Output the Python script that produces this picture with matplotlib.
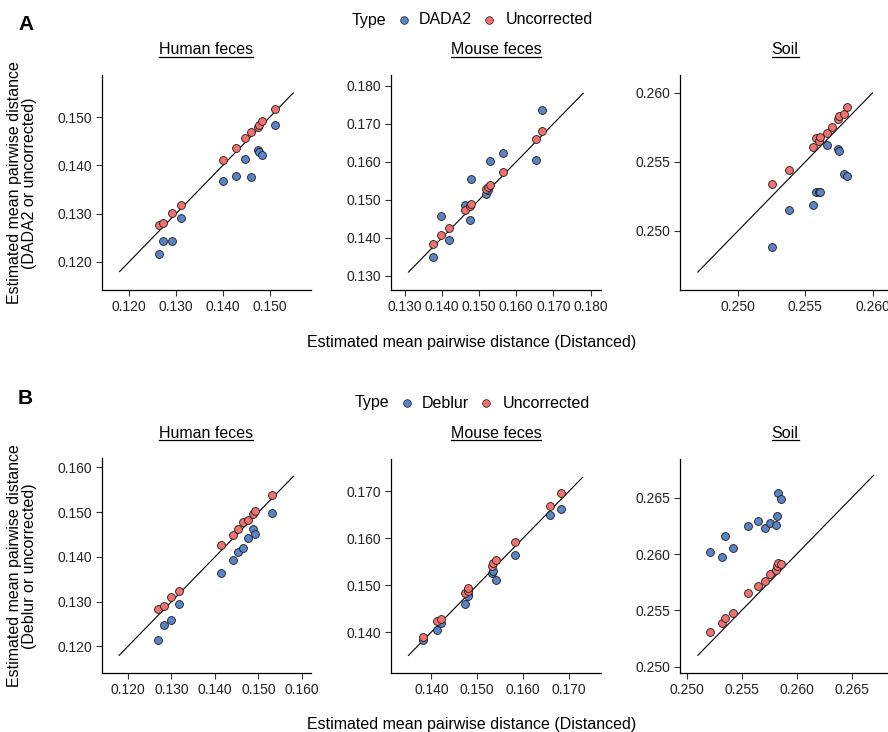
import numpy as np
import matplotlib
matplotlib.use("Agg")
import matplotlib.pyplot as plt
from matplotlib.lines import Line2D
from matplotlib.ticker import MultipleLocator, FormatStrFormatter

plt.rcParams['font.family'] = ['Liberation Sans', 'DejaVu Sans']

# values
# x = Distanced estimate, y = corrected (DADA2 / Deblur) or uncorrected estimate
a_human_x = [0.1264, 0.1272, 0.1291, 0.1311, 0.1400, 0.1427, 0.1447, 0.1460, 0.1474, 0.1476, 0.1483, 0.1512]
a_human_unc = [0.1277, 0.1281, 0.1301, 0.1318, 0.1412, 0.1435, 0.1456, 0.1470, 0.1480, 0.1484, 0.1491, 0.1517]
a_human_dada2 = [0.1217, 0.1243, 0.1243, 0.1290, 0.1367, 0.1377, 0.1414, 0.1375, 0.1432, 0.1427, 0.1422, 0.1484]

a_mouse_x = [0.1376, 0.1397, 0.1418, 0.1462, 0.1476, 0.1479, 0.1518, 0.1525, 0.1529, 0.1564, 0.1652, 0.1669]
a_mouse_unc = [0.1384, 0.1407, 0.1425, 0.1472, 0.1483, 0.1490, 0.1529, 0.1533, 0.1540, 0.1574, 0.1661, 0.1681]
a_mouse_dada2 = [0.1350, 0.1457, 0.1395, 0.1487, 0.1447, 0.1556, 0.1514, 0.1526, 0.1602, 0.1624, 0.1605, 0.1736]

a_soil_x = [0.2525, 0.2538, 0.2556, 0.2558, 0.2560, 0.2561, 0.2566, 0.2570, 0.2574, 0.2575, 0.2579, 0.2581]
a_soil_unc = [0.2534, 0.2544, 0.2561, 0.2567, 0.2565, 0.2568, 0.2571, 0.2575, 0.2581, 0.2583, 0.2585, 0.2590]
a_soil_dada2 = [0.2488, 0.2515, 0.2519, 0.2528, 0.2528, 0.2528, 0.2562, np.nan, 0.2559, 0.2558, 0.2541, 0.2540]

b_human_x = [0.1270, 0.1282, 0.1299, 0.1317, 0.1414, 0.1441, 0.1452, 0.1465, 0.1476, 0.1487, 0.1492, 0.1531]
b_human_unc = [0.1283, 0.1291, 0.1310, 0.1324, 0.1427, 0.1449, 0.1462, 0.1477, 0.1482, 0.1497, 0.1502, 0.1539]
b_human_deblur = [0.1215, 0.1249, 0.1259, 0.1295, 0.1365, 0.1393, 0.1412, 0.1419, 0.1443, 0.1462, 0.1452, 0.1499]

b_mouse_x = [0.1381, 0.1413, 0.1421, 0.1474, 0.1479, 0.1481, 0.1533, 0.1535, 0.1541, 0.1582, 0.1659, 0.1682]
b_mouse_unc = [0.1389, 0.1423, 0.1428, 0.1484, 0.1488, 0.1493, 0.1540, 0.1547, 0.1553, 0.1593, 0.1668, 0.1696]
b_mouse_deblur = [0.1382, 0.1404, 0.1419, 0.1459, 0.1482, 0.1476, 0.1526, 0.1531, 0.1512, 0.1565, 0.1650, 0.1662]

b_soil_x = [0.2521, 0.2532, 0.2535, 0.2542, 0.2556, 0.2565, 0.2571, 0.2576, 0.2581, 0.2582, 0.2583, 0.2586]
b_soil_unc = [0.2531, 0.2539, 0.2543, 0.2548, 0.2565, 0.2572, 0.2576, 0.2582, 0.2586, 0.2589, 0.2592, 0.2591]
b_soil_deblur = [0.2602, 0.2597, 0.2616, 0.2605, 0.2625, 0.2629, 0.2623, 0.2628, 0.2626, 0.2634, 0.2654, 0.2649]

# y = x reference segments and axis ranges per panel
a_lines = [(0.118, 0.155), (0.131, 0.178), (0.247, 0.260)]
b_lines = [(0.118, 0.158), (0.135, 0.173), (0.251, 0.267)]
a_lims = [(0.1142, 0.1587), (0.1263, 0.1828), (0.2457, 0.2613)]
b_lims = [(0.1140, 0.1620), (0.1312, 0.1770), (0.2494, 0.2685)]
a_steps = [0.01, 0.01, 0.005]
b_steps = [0.01, 0.01, 0.005]

titles = ["Human feces", "Mouse feces", "Soil"]

BLUE = "#5B83C5"
RED = "#F0716D"
EDGE = "#1a1a1a"

W, H = 888, 732
fig = plt.figure(figsize=(W / 100, H / 100), dpi=100)


def px_axes(left, top, right, bottom):
    return fig.add_axes([left / W, 1 - bottom / H, (right - left) / W, (bottom - top) / H])


def draw_panel(ax, x, unc, corr, line, lims, step):
    ax.plot(line, line, color="black", lw=0.8, zorder=1)
    ax.scatter(x, corr, s=32, color=BLUE, edgecolor=EDGE, linewidth=0.6, zorder=2)
    ax.scatter(x, unc, s=32, color=RED, edgecolor=EDGE, linewidth=0.6, zorder=3)
    ax.set_xlim(lims)
    ax.set_ylim(lims)
    for s in ["top", "right"]:
        ax.spines[s].set_visible(False)
    for s in ["left", "bottom"]:
        ax.spines[s].set_linewidth(0.9)
    ax.xaxis.set_major_locator(MultipleLocator(step))
    ax.yaxis.set_major_locator(MultipleLocator(step))
    ax.xaxis.set_major_formatter(FormatStrFormatter("%.3f"))
    ax.yaxis.set_major_formatter(FormatStrFormatter("%.3f"))
    ax.tick_params(length=4, width=0.8, color="#333333", labelsize=10, labelcolor="#222222", pad=3)


lefts = [101.7, 391, 680.3]
rights = [310.7, 601, 890]

row_a = [(a_human_x, a_human_unc, a_human_dada2),
         (a_mouse_x, a_mouse_unc, a_mouse_dada2),
         (a_soil_x, a_soil_unc, a_soil_dada2)]
row_b = [(b_human_x, b_human_unc, b_human_deblur),
         (b_mouse_x, b_mouse_unc, b_mouse_deblur),
         (b_soil_x, b_soil_unc, b_soil_deblur)]

title_texts = []
for top, bottom, row, lines, lims, steps, ty in [
        (75, 290, row_a, a_lines, a_lims, a_steps, 50),
        (458.5, 673.3, row_b, b_lines, b_lims, b_steps, 433)]:
    for i in range(3):
        ax = px_axes(lefts[i], top, rights[i], bottom)
        x, unc, corr = row[i]
        draw_panel(ax, x, unc, corr, lines[i], lims[i], steps[i])
        cx = (lefts[i] + rights[i]) / 2
        t = fig.text(cx / W, 1 - ty / H, titles[i], ha="center", va="center", fontsize=11.5)
        title_texts.append(t)

# panel letters
fig.text(18 / W, 1 - 25 / H, "A", fontsize=15, fontweight="bold", ha="left", va="center")
fig.text(18 / W, 1 - 398 / H, "B", fontsize=15, fontweight="bold", ha="left", va="center")

# axis titles
fig.text(22 / W, 1 - 183 / H, "Estimated mean pairwise distance\n(DADA2 or uncorrected)",
         rotation=90, ha="center", va="center", fontsize=11.5, linespacing=0.95)
fig.text(22 / W, 1 - 566 / H, "Estimated mean pairwise distance\n(Deblur or uncorrected)",
         rotation=90, ha="center", va="center", fontsize=11.5, linespacing=0.95)
fig.text(472 / W, 1 - 342 / H, "Estimated mean pairwise distance (Distanced)",
         ha="center", va="center", fontsize=11.5)
fig.text(472 / W, 1 - 724 / H, "Estimated mean pairwise distance (Distanced)",
         ha="center", va="center", fontsize=11.5)

renderer = fig.canvas.get_renderer()


def legend_row(y, corr_name, center=472):
    # ggplot style horizontal legend: "Type  o DADA2  o Uncorrected"
    parts = [("text", "Type"), ("gap", 18), ("mark", BLUE), ("gap", 15), ("text", corr_name),
             ("gap", 17), ("mark", RED), ("gap", 16.5), ("text", "Uncorrected")]
    widths = []
    for kind, val in parts:
        if kind == "text":
            t = fig.text(0, 0, val, fontsize=11.5)
            widths.append(t.get_window_extent(renderer).width)
            t.remove()
        else:
            widths.append(val if kind == "gap" else 0)
    x = center - sum(widths) / 2
    for (kind, val), w in zip(parts, widths):
        if kind == "text":
            fig.text(x / W, 1 - y / H, val, fontsize=11.5, ha="left", va="center")
        elif kind == "mark":
            fig.add_artist(Line2D([x / W], [1 - y / H], marker="o", markersize=5.5,
                                  markerfacecolor=val, markeredgecolor=EDGE,
                                  markeredgewidth=0.5, transform=fig.transFigure))
        x += w


legend_row(20, "DADA2")
legend_row(403, "Deblur")

# underline the facet titles
for t in title_texts:
    bb = t.get_window_extent(renderer)
    yl = bb.y0 + 1
    fig.add_artist(Line2D([bb.x0 / W, bb.x1 / W], [yl / H, yl / H], color="black",
                          lw=0.9, transform=fig.transFigure))

fig.savefig("out.png", dpi=100)
